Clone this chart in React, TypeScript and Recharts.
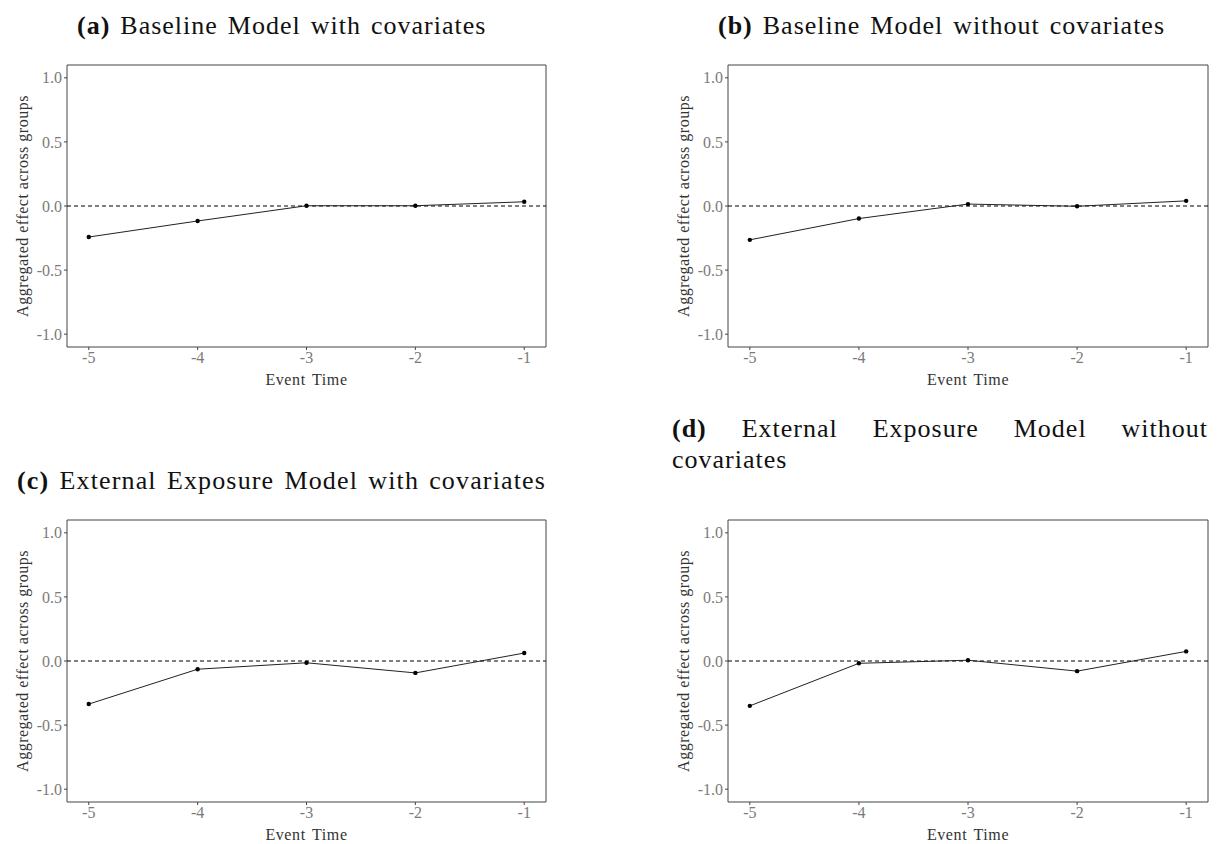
import React from "react";
import {
  LineChart,
  Line,
  XAxis,
  YAxis,
  ReferenceLine,
  ReferenceArea,
} from "recharts";

const eventTime = [-5, -4, -3, -2, -1];
const xTicks = [-5, -4, -3, -2, -1];
const yTicks = [-1, -0.5, 0, 0.5, 1];

const baselineWithCov = [-0.242, -0.117, 0.002, 0.002, 0.033];
const baselineWithoutCov = [-0.264, -0.098, 0.015, -0.002, 0.04];
const exposureWithCov = [-0.336, -0.064, -0.014, -0.093, 0.062];
const exposureWithoutCov = [-0.35, -0.018, 0.006, -0.079, 0.075];

const FONT = "'Liberation Serif', 'Times New Roman', serif";

const toRows = (vals: number[]) =>
  eventTime.map((t, i) => ({ t, effect: vals[i] }));

type Box = { l: number; t: number; r: number; b: number };

function Panel({ box, values }: { box: Box; values: number[] }) {
  const yAxisW = 67;
  const xAxisH = 40;
  const mTop = 10;
  const mRight = 9;
  const left = box.l - yAxisW;
  const top = box.t - mTop;
  const width = box.r - left + mRight;
  const height = box.b - top + xAxisH;

  return (
    <div style={{ position: "absolute", left, top }}>
      <LineChart
        width={width}
        height={height}
        data={toRows(values)}
        margin={{ top: mTop, right: mRight, bottom: 0, left: 0 }}
      >
        <XAxis
          dataKey="t"
          type="number"
          domain={[-5.2, -0.8]}
          ticks={xTicks}
          allowDataOverflow
          axisLine={false}
          tickSize={3}
          tickLine={{ stroke: "#444" }}
          height={xAxisH}
          tick={{ fill: "#7a7a7a", fontSize: 16, fontFamily: FONT }}
          label={{
            content: (p: any) => {
              const vb = p.viewBox;
              return (
                <text
                  x={vb.x + vb.width / 2}
                  y={vb.y + 32}
                  textAnchor="middle"
                  dominantBaseline="central"
                  fill="#333"
                  fontSize={16}
                  letterSpacing={0.6}
                  wordSpacing={2}
                  fontFamily={FONT}
                >
                  Event Time
                </text>
              );
            },
          }}
        />
        <YAxis
          type="number"
          domain={[-1.1, 1.1]}
          ticks={yTicks}
          allowDataOverflow
          axisLine={false}
          tickSize={3}
          tickLine={{ stroke: "#444" }}
          width={yAxisW}
          tickFormatter={(v: number) => v.toFixed(1)}
          tick={{ fill: "#7a7a7a", fontSize: 16, fontFamily: FONT }}
          label={{
            content: (p: any) => {
              const vb = p.viewBox;
              const cx = vb.x + 22;
              const cy = vb.y + vb.height / 2;
              return (
                <text
                  x={cx}
                  y={cy}
                  transform={`rotate(-90 ${cx} ${cy})`}
                  textAnchor="middle"
                  dominantBaseline="central"
                  fill="#333"
                  fontSize={16}
                  letterSpacing={0.5}
                  fontFamily={FONT}
                >
                  Aggregated effect across groups
                </text>
              );
            },
          }}
        />
        <ReferenceArea
          x1={-5.2}
          x2={-0.8}
          y1={-1.1}
          y2={1.1}
          fill="none"
          stroke="#444"
          strokeWidth={1}
          ifOverflow="visible"
        />
        <ReferenceLine y={0} stroke="#000" strokeDasharray="4 3" />
        <Line
          type="linear"
          dataKey="effect"
          stroke="#222"
          strokeWidth={1}
          dot={{ r: 2.2, fill: "#000", stroke: "#000", strokeWidth: 0 }}
          activeDot={false}
          isAnimationActive={false}
        />
      </LineChart>
    </div>
  );
}

const titleStyle: React.CSSProperties = {
  position: "absolute",
  fontFamily: FONT,
  fontSize: 26,
  letterSpacing: 1,
  wordSpacing: 2.5,
  color: "#111",
  whiteSpace: "nowrap",
  lineHeight: "30px",
};

export default function App() {
  return (
    <div
      style={{
        position: "absolute",
        left: 0,
        top: 0,
        width: 1217,
        height: 844,
        background: "#fff",
        fontFamily: FONT,
      }}
    >
      <div style={{ ...titleStyle, left: 77, top: 11 }}>
        <b>(a)</b> Baseline Model with covariates
      </div>
      <div style={{ ...titleStyle, left: 718, top: 11 }}>
        <b>(b)</b> Baseline Model without covariates
      </div>
      <div style={{ ...titleStyle, left: 17, top: 466, letterSpacing: 1.15 }}>
        <b>(c)</b> External Exposure Model with covariates
      </div>
      {/* (d) is a justified two-line caption in the source */}
      <div
        style={{
          ...titleStyle,
          left: 672,
          top: 414,
          width: 536,
          textAlign: "justify",
          textAlignLast: "justify",
        }}
      >
        <b>(d)</b> External Exposure Model without
      </div>
      <div style={{ ...titleStyle, left: 672, top: 445 }}>covariates</div>

      <Panel box={{ l: 67, t: 65, r: 546, b: 347 }} values={baselineWithCov} />
      <Panel box={{ l: 728, t: 65, r: 1208, b: 347 }} values={baselineWithoutCov} />
      <Panel box={{ l: 67, t: 520, r: 546, b: 802 }} values={exposureWithCov} />
      <Panel box={{ l: 728, t: 520, r: 1208, b: 802 }} values={exposureWithoutCov} />
    </div>
  );
}
